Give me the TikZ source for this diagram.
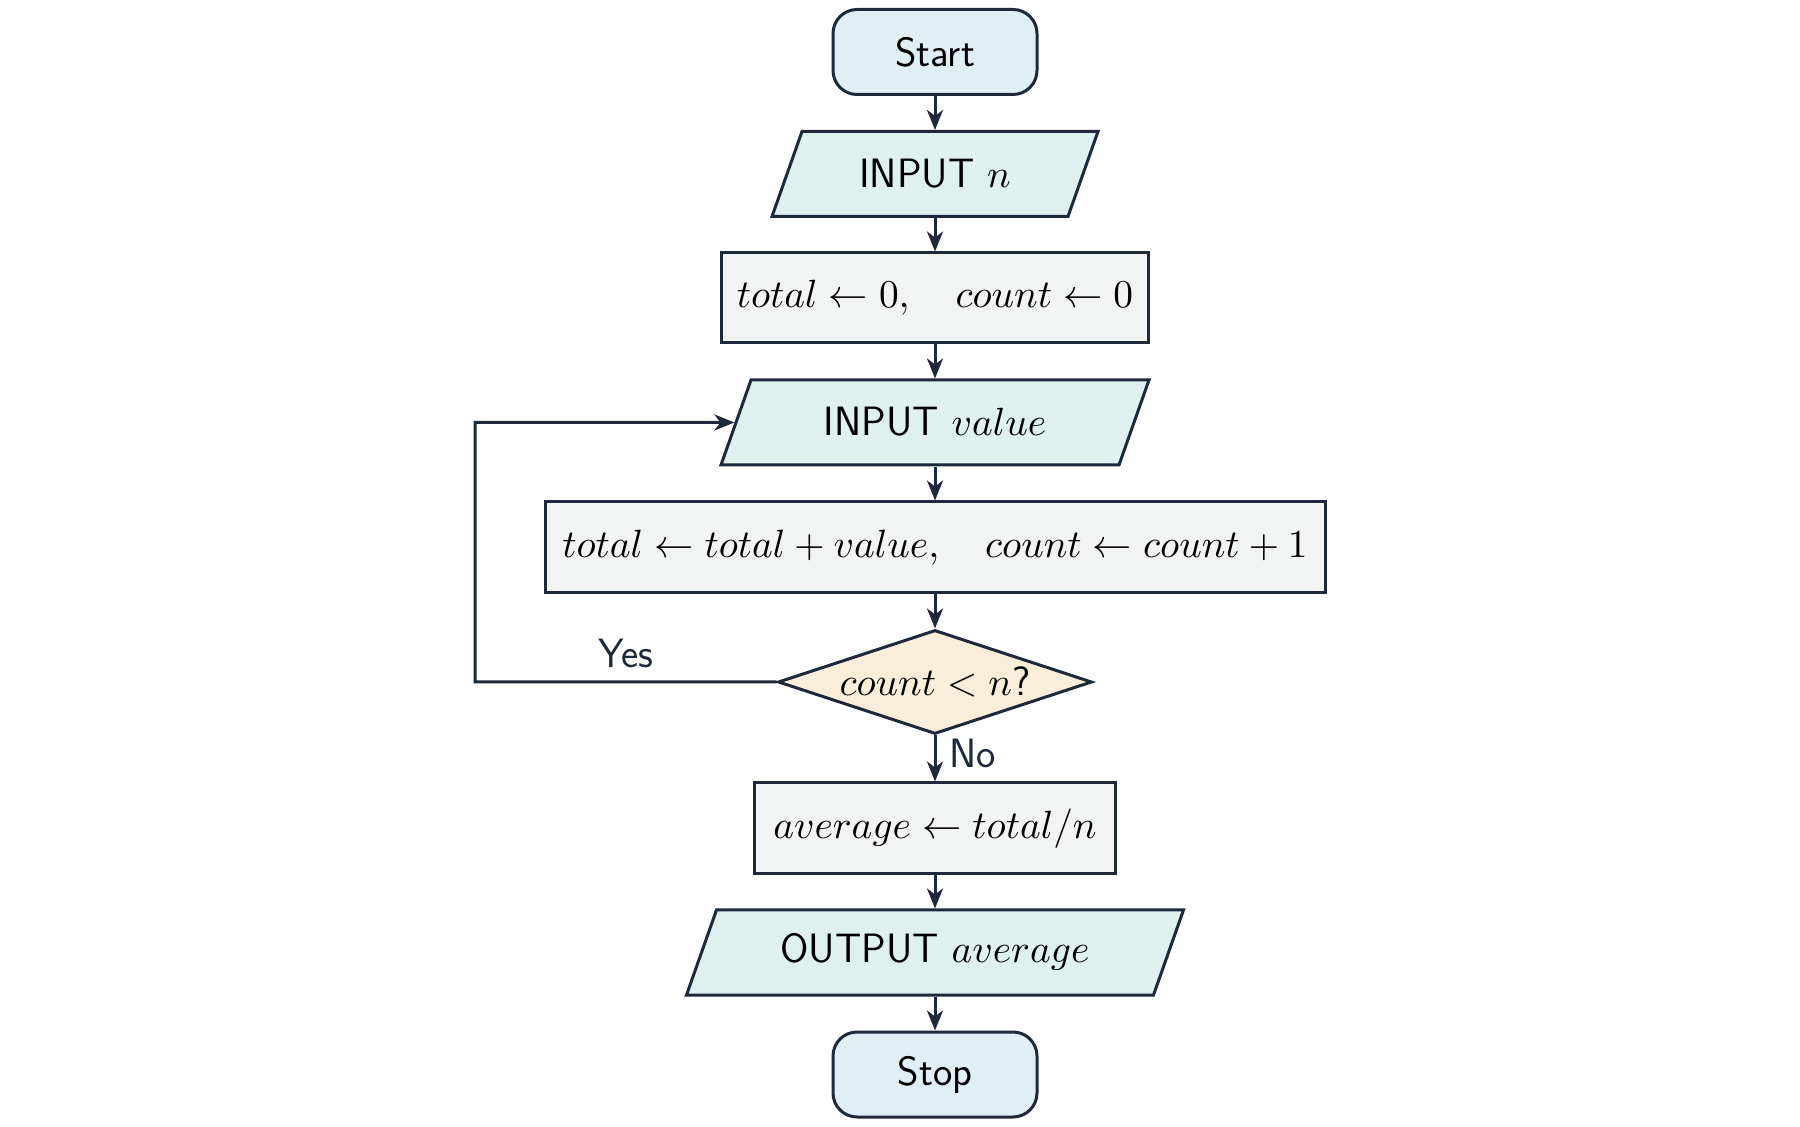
\documentclass[tikz,border=0pt]{standalone}
\DeclareFontShape{OT1}{cmss}{m}{n}{<->cmss10}{}
\DeclareFontShape{OML}{cmm}{m}{it}{<->cmmi10}{}
\DeclareFontShape{OMS}{cmsy}{m}{n}{<->cmsy10}{}
\DeclareFontShape{OT1}{cmr}{m}{n}{<->cmr10}{}
\usetikzlibrary{arrows.meta,shapes.geometric}
\definecolor{lineC}{RGB}{30,41,59}
\definecolor{termC}{RGB}{224,238,246}
\definecolor{ioC}{RGB}{223,241,238}
\definecolor{procC}{RGB}{242,244,243}
\definecolor{decC}{RGB}{250,238,218}
\newcommand{\iostrut}{\rule[-14.5pt]{0pt}{42.5pt}}
\newcommand{\iostrutlow}{\rule[-16.25pt]{0pt}{42.5pt}}
\newcommand{\mth}[1]{{\fontsize{19.7}{23.6}\selectfont$#1$}}
\begin{document}
\begin{tikzpicture}[x=0.5pt,y=-0.5pt,
  font=\fontsize{20.5}{24.6}\selectfont\sffamily,
  base/.style={draw=lineC, line width=1.5pt, inner sep=0pt, text=black},
  term/.style={base, fill=termC, rounded corners=12pt, minimum width=102pt, minimum height=42.5pt},
  io/.style={base, fill=ioC, trapezium, trapezium left angle=70.56, trapezium right angle=109.44, trapezium stretches body=true, minimum height=42.5pt},
  proc/.style={base, fill=procC, rectangle, font=\fontsize{19.7}{23.6}\selectfont},
  dec/.style={base, fill=decC, diamond, minimum width=157pt, minimum height=52pt},
  flow/.style={draw=lineC, line width=1.5pt, -{Stealth[length=10pt,width=8pt,inset=3pt]}},
  lbl/.style={text=lineC, inner sep=6.5pt}
]
\useasboundingbox (0,0) rectangle (1800,1127);

\node[term] (start) at (935,52) {Start};
\node[io, minimum width=163pt] (inputn) at (935,174) {\makebox[0pt]{INPUT \mth{n}}\iostrut};
\node[proc, minimum width=213.5pt, minimum height=45pt] (init) at (935,298) {$total \leftarrow 0,\quad count \leftarrow 0$};
\node[io, minimum width=214pt] (inputv) at (935,422.5) {\makebox[0pt]{INPUT \mth{value}}\iostrut};
\node[proc, minimum width=390pt, minimum height=45.5pt] (update) at (935,547.5) {$total \leftarrow total + value,\quad count \leftarrow count + 1$};
\node[dec] (check) at (935,682) {\makebox[0pt]{\mth{count < n}?}};
\node[proc, minimum width=180.5pt, minimum height=45.5pt] (avg) at (935,828.5) {$average \leftarrow total / n$};
\node[io, minimum width=248.5pt] (output) at (935,952.5) {\makebox[0pt]{OUTPUT \mth{average}}\iostrutlow};
\node[term] (stop) at (935,1074.5) {Stop};

\coordinate (loopB) at (475,682);
\coordinate (loopT) at (475,422.5);

\draw[flow] (start) -- (inputn);
\draw[flow] (inputn) -- (init);
\draw[flow] (init) -- (inputv);
\draw[flow] (inputv) -- (update);
\draw[flow] (update) -- (check);
\draw[flow] (check) -- node[lbl, pos=0.4, right] {No} (avg);
\draw[flow] (avg) -- (output);
\draw[flow] (output) -- (stop);
\draw[flow] (check.west) -- node[lbl, pos=0.5, above] {Yes} (loopB) -- (loopT) -- (inputv.west);
\end{tikzpicture}
\end{document}
